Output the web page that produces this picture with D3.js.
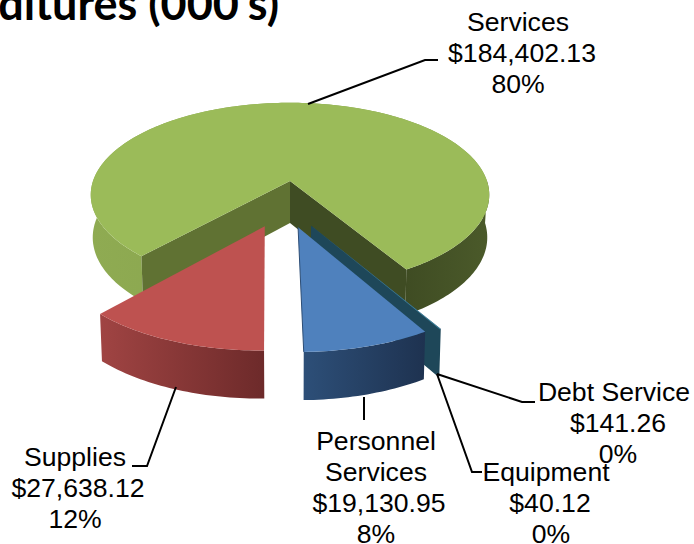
<!DOCTYPE html>
<html>
<head>
<meta charset="utf-8">
<script src="https://cdn.jsdelivr.net/npm/d3@7/dist/d3.min.js"></script>
<style>
  html, body { margin: 0; padding: 0; background: #fff; overflow: hidden; }
  svg { display: block; }
  text { font-family: "Liberation Sans", Arial, sans-serif; font-size: 26.6px; fill: #000; }
  .title { font-family: Lato, "Open Sans", sans-serif; font-weight: 700; font-size: 45px; }
</style>
</head>
<body>
<svg id="chart" width="694" height="544"></svg>
<script>
const categories = ['Personnel Services', 'Supplies', 'Services', 'Equipment', 'Debt Service'];
const amounts = [19130.95, 27638.12, 184402.13, 40.12, 141.26];
const titleText = "Expenditures (000's)";

const width = 694;
const height = 544;

// slice look, in the same order as categories
const topColors = ['#4f81bd', '#be5250', '#9bbb59', '#8064a2', '#3f8aa3'];
const explodeX = [0.038, -0.119, 0, 0.1, 0.1];
const explodeY = [0.478, 0.468, 0, 0.462, 0.462];

// projection of the tilted pie
const cx = 290;
const cy = 181;
const radius = 197;
const radiusY = 90;
const persp = 0.15;
const depth = 42;

const project = (x, y, low) => {
  const s = 1 / (1 - persp * y);
  const shrink = low ? 0.99 : 1;
  return [
    cx + radius * x * s * shrink,
    cy + radiusY * y * s + (low ? depth * (1 + 0.1 * y) : 0),
  ];
};

const svg = d3.select('#chart');
const defs = svg.append('defs');

const addGradient = (id, from, to) => {
  const g = defs.append('linearGradient').attr('id', id);
  g.append('stop').attr('offset', '0%').attr('stop-color', from);
  g.append('stop').attr('offset', '100%').attr('stop-color', to);
};
addGradient('wall-0', '#2d4f78', '#1e3250');
addGradient('wall-1', '#a04443', '#6d2a2a');
addGradient('wall-2-left', '#8fab52', '#7f9b48');
addGradient('wall-2-right', '#3f4c23', '#4b5a2a');

const total = d3.sum(amounts);
const pie = d3.pie()
  .sort(null)
  .startAngle(149.3 * Math.PI / 180)
  .endAngle(509.3 * Math.PI / 180);
const slices = pie(amounts);
const line = d3.line();

const rim = (d, i, low) => {
  const n = Math.max(1, Math.ceil((d.endAngle - d.startAngle) / 0.02));
  return d3.range(n + 1).map((k) => {
    const a = d.startAngle + (d.endAngle - d.startAngle) * k / n;
    return project(explodeX[i] + Math.sin(a), explodeY[i] - Math.cos(a), low);
  });
};
const apex = (i, low) => project(explodeX[i], explodeY[i], low);

const topPath = (d, i) => line([apex(i, false), ...rim(d, i, false)]) + 'Z';
const wallPath = (d, i) => line([...rim(d, i, false), ...rim(d, i, true).reverse()]) + 'Z';
const cutPath = (i, p, q) => line([apex(i, false), p, q, apex(i, true)]) + 'Z';

const drawSlice = (i, wallFill) => {
  const d = slices[i];
  svg.append('path').attr('d', wallPath(d, i)).attr('fill', wallFill);
  svg.append('path').attr('d', topPath(d, i)).attr('fill', topColors[i]);
};

// Services: left part of the rim is lit, right part is in shade
const green = slices[2];
const midAngle = Math.PI * 2.5;
svg.append('path')
  .attr('d', wallPath({ startAngle: green.startAngle, endAngle: midAngle }, 2))
  .attr('fill', 'url(#wall-2-left)');
svg.append('path')
  .attr('d', wallPath({ startAngle: midAngle, endAngle: green.endAngle }, 2))
  .attr('fill', 'url(#wall-2-right)');
const greenTop = rim(green, 2, false);
const greenLow = rim(green, 2, true);
svg.append('path')
  .attr('d', cutPath(2, greenTop[0], greenLow[0]))
  .attr('fill', '#607233');
svg.append('path')
  .attr('d', cutPath(2, greenTop[greenTop.length - 1], greenLow[greenLow.length - 1]))
  .attr('fill', '#3f4c23');
svg.append('path').attr('d', topPath(green, 2)).attr('fill', topColors[2]);

// the two tiny slices only show their cut face
[3, 4].forEach((i) => {
  const d = slices[i];
  const t = rim(d, i, false);
  const l = rim(d, i, true);
  svg.append('path')
    .attr('d', cutPath(i, t[t.length - 1], l[l.length - 1]))
    .attr('fill', '#1e4759');
  svg.append('path').attr('d', topPath(d, i)).attr('fill', topColors[i]);
});

drawSlice(0, 'url(#wall-0)');
const blueTop = rim(slices[0], 0, false);
svg.append('path')
  .attr('d', line([apex(0, false), blueTop[blueTop.length - 1]]))
  .attr('stroke', '#2c4d75')
  .attr('stroke-width', 1);
drawSlice(1, 'url(#wall-1)');

// labels and leader lines
const labelLayout = [
  { x: 376, y: 441, lines: ['Personnel', 'Services'], moneyDx: 3, pctDx: 0, leader: [[364, 397], [364, 420]] },
  { x: 75, y: 457, lines: ['Supplies'], moneyDx: 3, pctDx: 0, leader: [[176, 387], [147, 466], [132, 466]] },
  { x: 518, y: 22, lines: ['Services'], moneyDx: 4, pctDx: 0, leader: [[308, 104], [425, 60], [438, 60]] },
  { x: 546, y: 472, lines: ['Equipment'], moneyDx: 4, pctDx: 5, leader: [[437, 374], [472, 472], [482, 472]] },
  { x: 614, y: 392, lines: ['Debt Service'], moneyDx: 4, pctDx: 4, leader: [[437, 374], [522, 402], [535, 402]] },
];
const money = d3.format('$,.2f');
const pct = d3.format('.0%');
const lineGap = 30.9;

const labels = svg.append('g');
categories.forEach((name, i) => {
  const lay = labelLayout[i];
  labels.append('path')
    .attr('d', line(lay.leader))
    .attr('fill', 'none')
    .attr('stroke', '#000')
    .attr('stroke-width', 2);
  const rows = [
    ...lay.lines.map((t) => ({ t, dx: 0 })),
    { t: money(amounts[i]), dx: lay.moneyDx },
    { t: pct(amounts[i] / total), dx: lay.pctDx },
  ];
  labels.selectAll(null)
    .data(rows)
    .enter()
    .append('text')
    .attr('x', (r) => lay.x + r.dx)
    .attr('y', (r, k) => lay.y + k * lineGap)
    .attr('dy', '0.35em')
    .attr('text-anchor', 'middle')
    .text((r) => r.t);
});

svg.append('text')
  .attr('class', 'title')
  .attr('x', 279)
  .attr('y', 20)
  .attr('text-anchor', 'end')
  .text(titleText);
</script>
</body>
</html>
